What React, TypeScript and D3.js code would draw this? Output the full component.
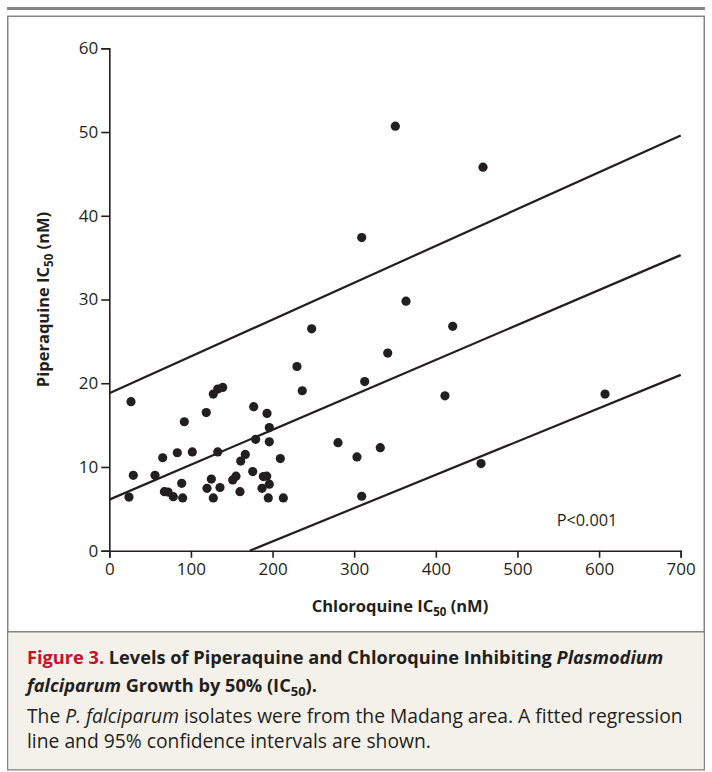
import React, { useEffect, useRef } from "react";
import * as d3 from "d3";

// Chloroquine IC50 (nM) and piperaquine IC50 (nM) per isolate
const chloroquine = [
  26.6, 24.1, 29.4, 56.0, 65.4, 67.5, 72.0, 78.4, 83.3, 88.7, 89.9, 91.9, 101.7,
  118.8, 119.7, 125.0, 127.4, 127.4, 132.8, 138.9, 132.8, 135.6, 151.2, 155.2,
  160.1, 161.0, 166.6, 175.7, 176.9, 179.3, 187.1, 188.7, 192.8, 193.2, 196.0,
  196.0, 196.0, 194.8, 209.5, 213.2, 236.4, 247.9, 229.9, 363.5, 420.7, 341.1,
  312.9, 411.2, 280.2, 303.4, 332.0, 309.2, 455.4, 350.4, 457.8, 309.2, 607.3,
];
const piperaquine = [
  17.8, 6.4, 9.0, 9.0, 11.1, 7.05, 7.0, 6.45, 11.7, 8.05, 6.3, 15.4, 11.8,
  16.5, 7.45, 8.55, 6.3, 18.7, 19.3, 19.5, 11.8, 7.55, 8.45, 8.9,
  7.05, 10.7, 11.5, 9.45, 17.2, 13.3, 7.45, 8.85, 8.9, 16.4, 14.7,
  13.0, 7.95, 6.3, 11.0, 6.3, 19.1, 26.5, 22.0, 29.8, 26.8, 23.6,
  20.2, 18.5, 12.9, 11.2, 12.3, 6.5, 10.4, 50.7, 45.8, 37.4, 18.7,
];

const xTicks = [0, 100, 200, 300, 400, 500, 600, 700];
const yTicks = [0, 10, 20, 30, 40, 50, 60];

// regression line and 95% interval bounds (endpoints in data units)
const fitX = [0, 700];
const fitY = [6.1, 35.3];
const upperX = [0, 700];
const upperY = [18.8, 49.6];
const lowerX = [172, 700];
const lowerY = [0, 21.0];

const ink = "#231f20";
const frame = "#858585";
const captionBg = "#f4f1ea";
const red = "#c8102e";
const font = "'Open Sans', 'Noto Sans', sans-serif";

const W = 712;
const H = 772;

export default function App() {
  const xAxisRef = useRef<SVGGElement>(null);
  const yAxisRef = useRef<SVGGElement>(null);

  const x = d3.scaleLinear().domain([0, 700]).range([109.3, 680.7]);
  const y = d3.scaleLinear().domain([0, 60]).range([550.7, 48.3]);

  useEffect(() => {
    const xa = d3.select(xAxisRef.current);
    xa.call(d3.axisBottom(x).tickValues(xTicks).tickSize(7).tickSizeOuter(7).tickPadding(5) as any);
    const ya = d3.select(yAxisRef.current);
    ya.call(d3.axisLeft(y).tickValues(yTicks).tickSize(8).tickSizeOuter(8).tickPadding(3) as any);
    [xa, ya].forEach((g) => {
      g.attr("font-family", font).attr("font-size", 17);
      g.selectAll("path, line").attr("stroke", ink).attr("stroke-width", 1.6);
      g.selectAll("text").attr("fill", ink);
    });
  }, []);

  const seg = (xs: number[], ys: number[]) =>
    d3.line<number>().x((_, i) => x(xs[i])).y((d) => y(d))(ys) ?? "";

  const points = chloroquine.map((c, i) => ({ c, p: piperaquine[i] }));

  return (
    <svg
      width={W}
      height={H}
      viewBox={`0 0 ${W} ${H}`}
      style={{ position: "absolute", left: 0, top: 0, background: "#fff" }}
    >
      <rect x={7} y={7} width={698} height={3} fill={frame} />
      <rect x={7.75} y={16.25} width={696.5} height={753.5} fill="#fff" stroke={frame} strokeWidth={1.5} />
      <rect x={8.5} y={632} width={695} height={137.2} fill={captionBg} />
      <line x1={7.75} x2={704.25} y1={631.7} y2={631.7} stroke={frame} strokeWidth={1.5} />

      <g ref={xAxisRef} transform={`translate(0,${y(0)})`} />
      <g ref={yAxisRef} transform={`translate(${x(0)},0)`} />

      <path d={seg(upperX, upperY)} fill="none" stroke={ink} strokeWidth={2.2} />
      <path d={seg(fitX, fitY)} fill="none" stroke={ink} strokeWidth={2.2} />
      <path d={seg(lowerX, lowerY)} fill="none" stroke={ink} strokeWidth={2.2} />

      {points.map((d, i) => (
        <circle key={i} cx={x(d.c)} cy={y(d.p)} r={4.6} fill={ink} />
      ))}

      <text x={587} y={526} textAnchor="middle" fontFamily={font} fontSize={16.3} fill={ink}>
        P&lt;0.001
      </text>

      <text x={400} y={612} textAnchor="middle" fontFamily={font} fontSize={16.5} fontWeight={700} fill={ink}>
        Chloroquine IC<tspan fontSize={11.5} dy={4}>50</tspan>
        <tspan dy={-4}> (nM)</tspan>
      </text>
      <text
        transform={`translate(49,${(y(0) + y(60)) / 2}) rotate(-90)`}
        textAnchor="middle"
        fontFamily={font}
        fontSize={16.5}
        fontWeight={700}
        fill={ink}
      >
        Piperaquine IC<tspan fontSize={11.5} dy={4}>50</tspan>
        <tspan dy={-4}> (nM)</tspan>
      </text>

      <g fontFamily={font} fill={ink}>
        <text x={27} y={664} fontSize={18.2} fontWeight={700}>
          <tspan fill={red}>Figure 3.</tspan> Levels of Piperaquine and Chloroquine Inhibiting{" "}
          <tspan fontStyle="italic">Plasmodium</tspan>
        </text>
        <text x={27} y={692} fontSize={18.2} fontWeight={700}>
          <tspan fontStyle="italic">falciparum</tspan> Growth by 50% (IC
          <tspan fontSize={13} dy={4}>50</tspan>
          <tspan dy={-4}>).</tspan>
        </text>
        <text x={27} y={723} fontSize={19.3}>
          The <tspan fontStyle="italic">P. falciparum</tspan> isolates were from the Madang area. A fitted regression
        </text>
        <text x={27} y={748} fontSize={19.3}>
          line and 95% confidence intervals are shown.
        </text>
      </g>
    </svg>
  );
}
